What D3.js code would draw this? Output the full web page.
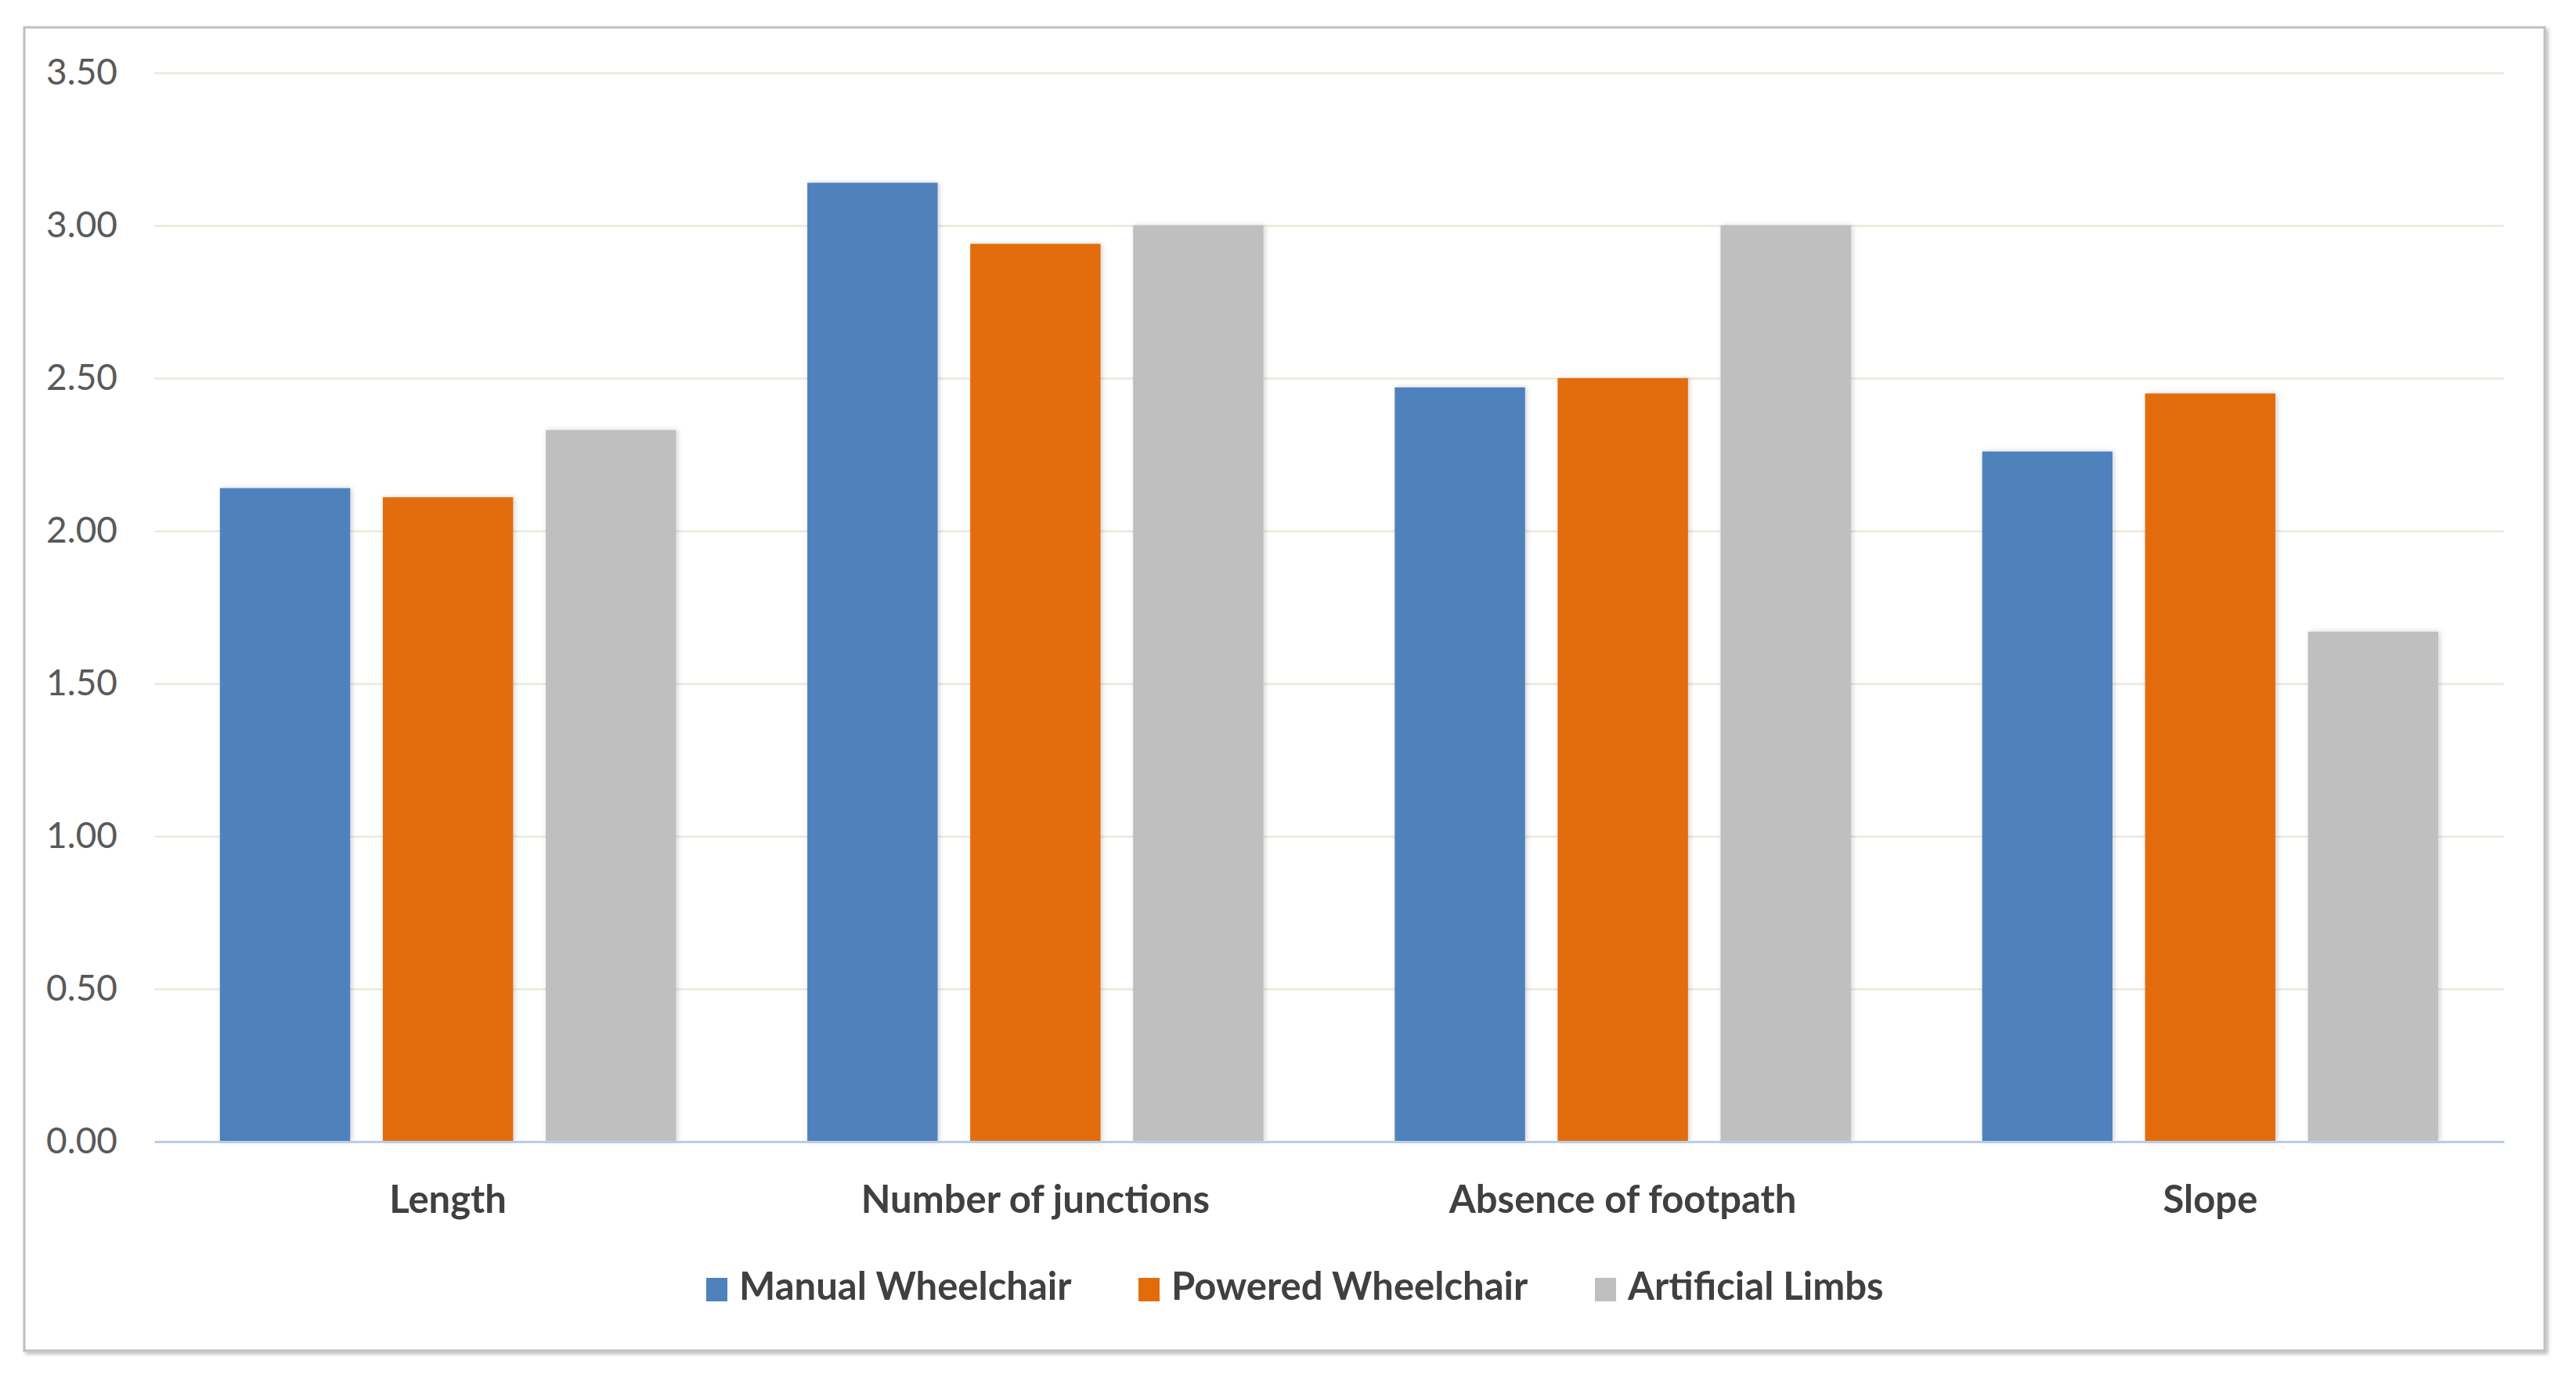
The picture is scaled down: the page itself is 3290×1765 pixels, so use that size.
<!DOCTYPE html>
<html>
<head>
<meta charset="utf-8">
<script src="https://cdn.jsdelivr.net/npm/d3@7"></script>
<style>
  html, body { margin: 0; padding: 0; background: #ffffff; }
  svg { display: block; }
</style>
</head>
<body>
<svg id="chart" width="3290" height="1765"></svg>
<script>
// ---- data ----
const categories = ["Length", "Number of junctions", "Absence of footpath", "Slope"];
const seriesNames = ["Manual Wheelchair", "Powered Wheelchair", "Artificial Limbs"];
const manualWheelchair = [2.14, 3.14, 2.47, 2.26];
const poweredWheelchair = [2.11, 2.94, 2.50, 2.45];
const artificialLimbs = [2.33, 3.00, 3.00, 1.67];
const yTicks = [0, 0.5, 1.0, 1.5, 2.0, 2.5, 3.0, 3.5];
const colors = ["#4F81BD", "#E36C0A", "#BFBFBF"];

const seriesValues = [manualWheelchair, poweredWheelchair, artificialLimbs];
const table = categories.map((c, i) => ({
  category: c,
  values: seriesNames.map((s, j) => ({ series: s, value: seriesValues[j][i], color: colors[j] }))
}));

// ---- layout ----
const svg = d3.select("#chart");
const plotLeft = 197, plotRight = 3198, plotTop = 93, plotBottom = 1458;
const font = "Lato, 'Open Sans', sans-serif";

const defs = svg.append("defs");
const f = defs.append("filter").attr("id", "shadow").attr("x", "-10%").attr("y", "-10%").attr("width", "130%").attr("height", "130%");
f.append("feDropShadow").attr("dx", 2).attr("dy", 0).attr("stdDeviation", 3).attr("flood-color", "#000").attr("flood-opacity", 0.18);

const fb = defs.append("filter").attr("id", "bshadow").attr("x", "-5%").attr("y", "-5%").attr("width", "110%").attr("height", "110%");
fb.append("feDropShadow").attr("dx", 3).attr("dy", 3).attr("stdDeviation", 2).attr("flood-color", "#000").attr("flood-opacity", 0.25);

// outer frame
svg.append("rect")
  .attr("x", 31).attr("y", 35).attr("width", 3219).attr("height", 1690)
  .attr("fill", "#ffffff").attr("stroke", "#BFBFBF").attr("stroke-width", 3)
  .attr("filter", "url(#bshadow)");

const x0 = d3.scaleBand().domain(categories).range([plotLeft, plotRight]).paddingInner(0).paddingOuter(0);
const x1 = d3.scaleBand().domain(seriesNames).range([0, x0.bandwidth()]).paddingInner(0.2).paddingOuter(0.403);
const y = d3.scaleLinear().domain([0, 3.5]).range([plotBottom, plotTop]);

// gridlines
const yAxis = d3.axisLeft(y).tickValues(yTicks).tickFormat(d3.format(".2f"))
  .tickSize(-(plotRight - plotLeft)).tickPadding(47);
const gy = svg.append("g").attr("transform", `translate(${plotLeft},0)`).call(yAxis);
gy.select(".domain").remove();
gy.selectAll(".tick line").attr("stroke", "#EEECE1").attr("stroke-width", 3)
  .filter(d => d === 0).remove();
gy.selectAll(".tick text")
  .attr("font-family", font).attr("font-size", 46).attr("fill", "#595959");

// bars
const groups = svg.append("g").selectAll("g").data(table).join("g")
  .attr("transform", d => `translate(${x0(d.category)},0)`);
groups.selectAll("rect").data(d => d.values).join("rect")
  .attr("x", d => x1(d.series))
  .attr("y", d => y(d.value))
  .attr("width", x1.bandwidth())
  .attr("height", d => y(0) - y(d.value))
  .attr("fill", d => d.color)
  .attr("filter", "url(#shadow)");

// x axis
const xAxis = d3.axisBottom(x0).tickSize(0).tickPadding(0);
const gx = svg.append("g").attr("transform", `translate(0,${plotBottom})`).call(xAxis);
gx.select(".domain").attr("stroke", "#B9CDE5").attr("stroke-width", 3);
gx.selectAll(".tick text")
  .attr("font-family", font).attr("font-size", 49).attr("font-weight", 700)
  .attr("fill", "#404040").attr("dy", null).attr("y", 78)
  .attr("dominant-baseline", "middle");

// legend
const legendX = [902, 1454, 2037];
const legendY = 1647;
const lg = svg.append("g").selectAll("g").data(seriesNames).join("g")
  .attr("transform", (d, i) => `translate(${legendX[i]},${legendY})`);
lg.append("rect").attr("x", 0).attr("y", -15).attr("width", 27).attr("height", 30)
  .attr("fill", (d, i) => colors[i]);
lg.append("text").attr("x", 42).attr("y", 0).attr("dominant-baseline", "middle")
  .attr("font-family", font).attr("font-size", 49).attr("font-weight", 700)
  .attr("fill", "#404040").text(d => d);
</script>
</body>
</html>
